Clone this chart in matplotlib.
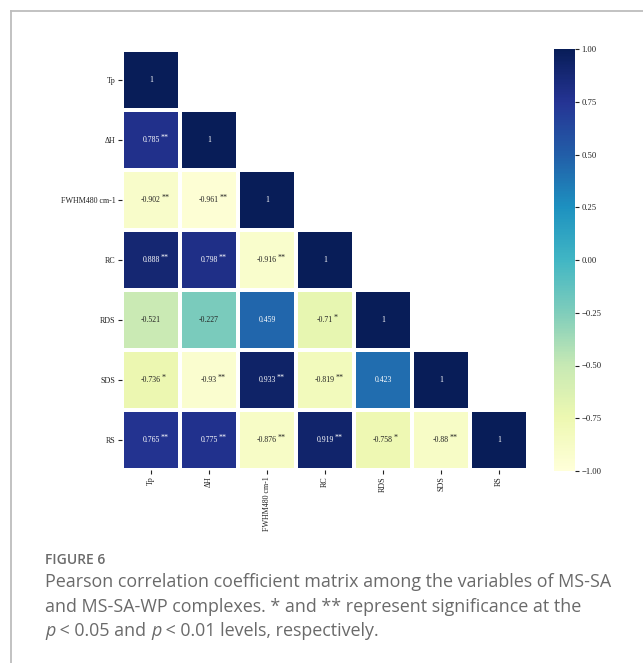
import numpy as np
import matplotlib
matplotlib.use("Agg")
import matplotlib.pyplot as plt
from matplotlib.lines import Line2D
import matplotlib.colors as mcolors

variables = ["Tp", "ΔH", "FWHM480 cm-1", "RC", "RDS", "SDS", "RS"]

# lower-triangle Pearson coefficients, row by row
coef_rows = [
    [1],
    [0.785, 1],
    [-0.902, -0.961, 1],
    [0.888, 0.798, -0.916, 1],
    [-0.521, -0.227, 0.459, -0.71, 1],
    [-0.736, -0.93, 0.933, -0.819, 0.423, 1],
    [0.765, 0.775, -0.876, 0.919, -0.758, -0.88, 1],
]
# significance marks for each coefficient
sig_rows = [
    [""],
    ["**", ""],
    ["**", "**", ""],
    ["**", "**", "**", ""],
    ["", "", "", "*", ""],
    ["*", "**", "**", "**", "", ""],
    ["**", "**", "**", "**", "*", "**", ""],
]
cbar_ticks = [-1.0, -0.75, -0.5, -0.25, 0.0, 0.25, 0.5, 0.75, 1.0]

plt.rcParams["font.family"] = ["Liberation Serif", "DejaVu Serif"]

W, H = 643, 663
fig = plt.figure(figsize=(W / 100, H / 100), dpi=100)

n = len(variables)
mat = np.full((n, n), np.nan)
for i, row in enumerate(coef_rows):
    for j, v in enumerate(row):
        mat[i, j] = v
masked = np.ma.masked_invalid(mat)

cmap = plt.get_cmap("YlGnBu")
norm = mcolors.Normalize(vmin=-1, vmax=1)


def px_axes(x0, y0, x1, y1):
    return fig.add_axes([x0 / W, 1 - y1 / H, (x1 - x0) / W, (y1 - y0) / H])


ax = px_axes(122, 50, 528, 470)
mesh = ax.pcolormesh(np.arange(n + 1), np.arange(n + 1), masked, cmap=cmap,
                     norm=norm, edgecolors="white", linewidth=1.6)
ax.set_xlim(0, n)
ax.set_ylim(n, 0)
for s in ax.spines.values():
    s.set_visible(False)
ax.set_xticks(np.arange(n) + 0.5)
ax.set_yticks(np.arange(n) + 0.5)
ax.set_xticklabels(variables, rotation=90, fontsize=5.8)
ax.set_yticklabels(variables, fontsize=5.8)
ax.tick_params(length=3, width=0.8, pad=1.5, colors="#222222")

for i, row in enumerate(coef_rows):
    for j, v in enumerate(row):
        rgba = cmap(norm(v))
        lum = 0.2126 * rgba[0] + 0.7152 * rgba[1] + 0.0722 * rgba[2]
        tc = "white" if lum < 0.45 else "#222222"
        label = "1" if v == 1 else f"{v:g}"
        t = ax.text(j + 0.5, i + 0.5, label, ha="center", va="center",
                    fontsize=5.6, color=tc)
        stars = sig_rows[i][j]
        if stars:
            ax.annotate(stars, xy=(1, 0.5), xycoords=t, xytext=(0.5, 1.6),
                        textcoords="offset points", ha="left", va="center",
                        fontsize=5.8, color=tc)

cax = px_axes(554, 49, 575, 471)
cb = fig.colorbar(mesh, cax=cax, ticks=cbar_ticks)
cb.outline.set_visible(False)
cb.ax.set_yticklabels([f"{t:.2f}".replace("-", "\u2212") for t in cbar_ticks])
cb.ax.tick_params(labelsize=6.2, length=3, width=0.8, pad=1.5, colors="#222222")

# page frame
fig.add_artist(Line2D([11 / W, 1], [1 - 11 / H, 1 - 11 / H], color="#bdbdbd",
                      lw=1.3, transform=fig.transFigure))
fig.add_artist(Line2D([11 / W, 11 / W], [1 - 11 / H, 0], color="#bdbdbd",
                      lw=1.3, transform=fig.transFigure))

fig.text(45 / W, 1 - 560 / H, "FIGURE 6", family="Open Sans", fontsize=10,
         weight="semibold", color="#6b6b6b", va="center")

caption = [
    [("Pearson correlation coefficient matrix among the variables of MS-SA", "normal")],
    [("and MS-SA-WP complexes. * and ** represent significance at the", "normal")],
    [("p", "italic"), (" < 0.05 and ", "normal"), ("p", "italic"),
     (" < 0.01 levels, respectively.", "normal")],
]
line_y = [582, 607, 631]
renderer = fig.canvas.get_renderer()
for runs, yc in zip(caption, line_y):
    x = 45.0
    for text, style in runs:
        t = fig.text(x / W, 1 - yc / H, text, family="Open Sans", style=style,
                     fontsize=12.9, color="#6a6a6a", va="center")
        x += t.get_window_extent(renderer).width

fig.savefig("out.png", dpi=100)
